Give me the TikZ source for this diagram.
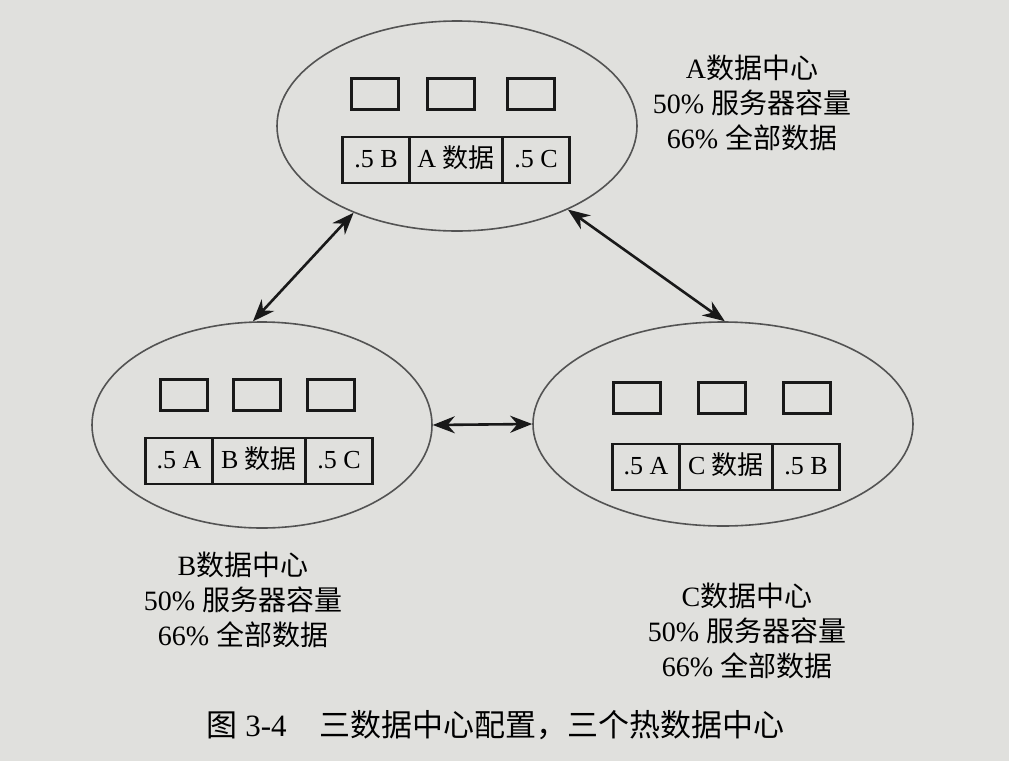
\documentclass[tikz,border=0pt]{standalone}
\usepackage{fontspec}
\setmainfont{Liberation Serif}
\newfontfamily\cjk{Noto Sans CJK SC}
\usetikzlibrary{shapes.geometric,arrows.meta,positioning}
\definecolor{paper}{RGB}{224,224,221}
\definecolor{ink}{RGB}{25,25,25}
\begin{document}
\begin{tikzpicture}[x=1pt,y=-1pt,
    centre/.style={draw=gray!65!black, line width=1.6pt, ellipse, inner sep=0pt},
    server/.style={draw=ink, line width=2.8pt, minimum width=47pt, minimum height=31pt, inner sep=0pt},
    share/.style={draw=ink, line width=2.8pt, minimum width=67pt, minimum height=46pt, inner sep=0pt, outer sep=0pt,
        text height=19pt, text depth=5pt, font=\fontsize{26}{30}\selectfont},
    own/.style={share, minimum width=93pt},
    info/.style={align=center, font=\fontsize{28}{35}\selectfont},
    link/.style={{Stealth[length=22pt,width=17pt]}-{Stealth[length=22pt,width=17pt]}, draw=ink, line width=2.6pt}]  %three hot data centres
    \fill[paper] (0,0) rectangle (1009,761);
    \useasboundingbox (0,0) rectangle (1009,761);

    % data centres
    \node[centre, minimum width=360pt, minimum height=210pt] (A) at (457,126) {};
    \node[centre, minimum width=340pt, minimum height=206pt] (B) at (262,425) {};
    \node[centre, minimum width=380pt, minimum height=204pt] (C) at (723,424) {};

    % servers
    \node[server] (A1) at (375,94) {};
    \node[server] (A2) at (451,94) {};
    \node[server] (A3) at (531,94) {};
    \node[server] (B1) at (184,395) {};
    \node[server] (B2) at (257,395) {};
    \node[server] (B3) at (331,395) {};
    \node[server] (C1) at (637,398) {};
    \node[server] (C2) at (722,398) {};
    \node[server] (C3) at (807,398) {};

    % data shares
    \node[own] (Ad) at (456,160) {A {\cjk 数据}};
    \node[share, left=0pt of Ad] (Ab) {.5 B};
    \node[share, right=0pt of Ad] (Ac) {.5 C};
    \node[own] (Bd) at (259,461) {B {\cjk 数据}};
    \node[share, left=0pt of Bd] (Ba) {.5 A};
    \node[share, right=0pt of Bd] (Bc) {.5 C};
    \node[own] (Cd) at (726,467) {C {\cjk 数据}};
    \node[share, left=0pt of Cd] (Ca) {.5 A};
    \node[share, right=0pt of Cd] (Cb) {.5 B};

    % labels
    \node[info] (Ainfo) at (752,103) {A{\cjk 数据中心}\\50\% {\cjk 服务器容量}\\66\% {\cjk 全部数据}};
    \node[info] (Binfo) at (243,600) {B{\cjk 数据中心}\\50\% {\cjk 服务器容量}\\66\% {\cjk 全部数据}};
    \node[info] (Cinfo) at (747,631) {C{\cjk 数据中心}\\50\% {\cjk 服务器容量}\\66\% {\cjk 全部数据}};

    % replication
    \draw[link] (B.95) -- (A.220);
    \draw[link] (A.323) -- (C.89);
    \draw[link] (B.east) -- (C.west);

    \node[anchor=west, font=\fontsize{31}{36}\selectfont] (cap) at (203,725) {{\cjk 图} 3-4\hspace{33pt}{\cjk 三数据中心配置，三个热数据中心}};
\end{tikzpicture}
\end{document}
